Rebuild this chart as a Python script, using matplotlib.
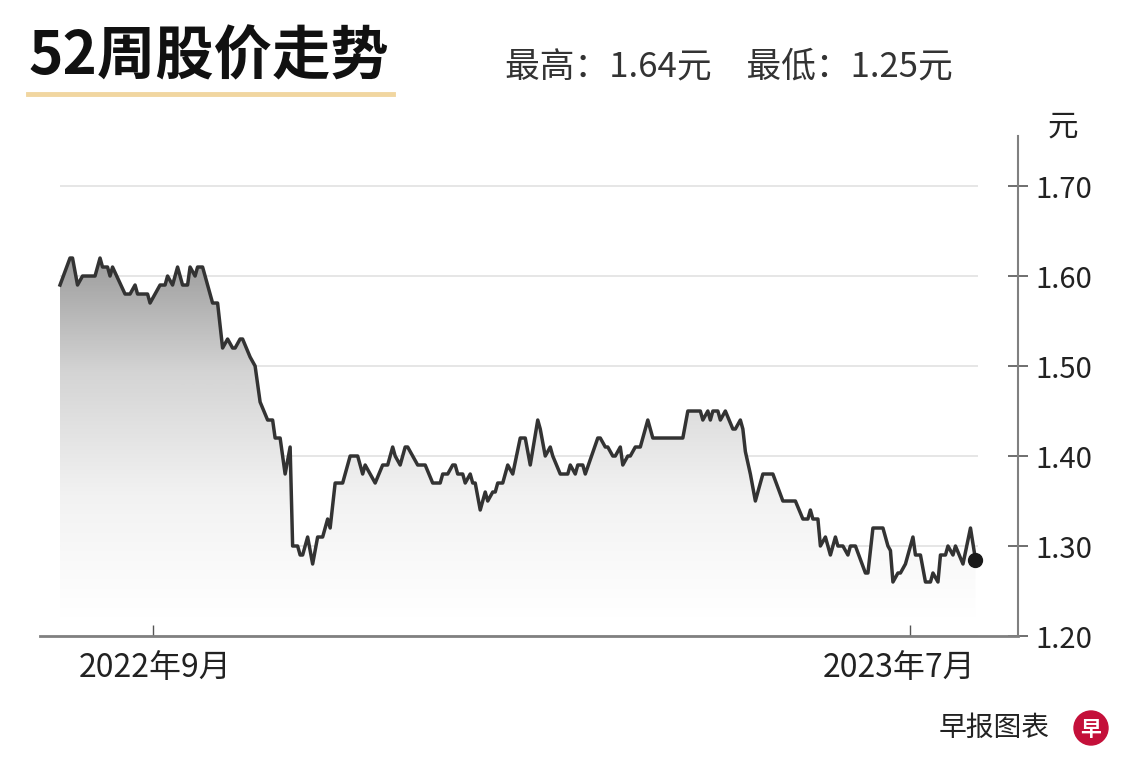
import numpy as np
import matplotlib
matplotlib.use("Agg")
import matplotlib.pyplot as plt
from matplotlib.colors import LinearSegmentedColormap
from matplotlib.patches import Ellipse

plt.rcParams['font.family'] = ['Noto Sans CJK SC', 'DejaVu Sans']

# 52周收盘价 (自2022-07-26起的天数, 元)
days = [0, 4, 5, 7, 9, 14, 16, 17, 19, 20, 21, 26, 28, 30, 31, 35, 36, 38, 40, 42,
        43, 45, 47, 49, 51, 52, 54, 55, 57, 59, 61, 63, 65, 67, 69, 70, 72, 73, 76, 78,
        80, 83, 85, 86, 88, 90, 92, 93, 95, 96, 97, 99, 101, 103, 105, 107, 108, 110, 113, 116,
        119, 121, 122, 124, 126, 129, 131, 133, 134, 136, 138, 139, 141, 143, 146, 149, 152, 153, 155, 157,
        158, 159, 161, 162, 164, 165, 166, 168, 170, 171, 173, 174, 175, 177, 179, 181, 184, 186, 188, 191,
        192, 194, 196, 197, 200, 203, 204, 206, 207, 209, 210, 215, 216, 218, 219, 221, 222, 224, 225, 227,
        228, 230, 232, 235, 237, 249, 251, 256, 257, 259, 260, 261, 263, 264, 266, 269, 270, 272, 273, 274,
        276, 278, 279, 281, 285, 289, 294, 297, 299, 300, 301, 303, 304, 306, 308, 310, 311, 313, 315, 316,
        318, 322, 323, 325, 329, 331, 332, 333, 335, 336, 338, 341, 342, 344, 346, 348, 349, 351, 352, 354,
        355, 357, 358, 361, 364, 366]
prices = [1.59, 1.62, 1.62, 1.59, 1.60, 1.60, 1.62, 1.61, 1.61, 1.60, 1.61, 1.58, 1.58, 1.59, 1.58, 1.58, 1.57, 1.58, 1.59, 1.59,
          1.60, 1.59, 1.61, 1.59, 1.59, 1.61, 1.60, 1.61, 1.61, 1.59, 1.57, 1.57, 1.52, 1.53, 1.52, 1.52, 1.53, 1.53, 1.51, 1.50,
          1.46, 1.44, 1.44, 1.42, 1.42, 1.38, 1.41, 1.30, 1.30, 1.29, 1.29, 1.31, 1.28, 1.31, 1.31, 1.33, 1.32, 1.37, 1.37, 1.40,
          1.40, 1.38, 1.39, 1.38, 1.37, 1.39, 1.39, 1.41, 1.40, 1.39, 1.41, 1.41, 1.40, 1.39, 1.39, 1.37, 1.37, 1.38, 1.38, 1.39,
          1.39, 1.38, 1.38, 1.37, 1.38, 1.37, 1.37, 1.34, 1.36, 1.35, 1.36, 1.36, 1.37, 1.37, 1.39, 1.38, 1.42, 1.42, 1.39, 1.44,
          1.43, 1.40, 1.41, 1.40, 1.38, 1.38, 1.39, 1.38, 1.39, 1.39, 1.38, 1.42, 1.42, 1.41, 1.41, 1.40, 1.40, 1.41, 1.39, 1.40,
          1.40, 1.41, 1.41, 1.44, 1.42, 1.42, 1.45, 1.45, 1.44, 1.45, 1.44, 1.45, 1.45, 1.44, 1.45, 1.43, 1.43, 1.44, 1.43, 1.405,
          1.38, 1.35, 1.36, 1.38, 1.38, 1.35, 1.35, 1.33, 1.33, 1.34, 1.33, 1.33, 1.30, 1.31, 1.29, 1.31, 1.30, 1.30, 1.29, 1.30,
          1.30, 1.27, 1.27, 1.32, 1.32, 1.30, 1.295, 1.26, 1.27, 1.27, 1.28, 1.31, 1.29, 1.29, 1.26, 1.26, 1.27, 1.26, 1.29, 1.29,
          1.30, 1.29, 1.30, 1.28, 1.32, 1.285]

y_ticks = [1.20, 1.30, 1.40, 1.50, 1.60, 1.70]
x_tick_days = [37, 340]
x_tick_labels = ["2022年9月", "2023年7月"]
title = "52周股价走势"
subtitle = "最高：1.64元　最低：1.25元"

days = np.array(days)
prices = np.array(prices)

fig = plt.figure(figsize=(11.4, 7.78), dpi=100)
ax = fig.add_axes([40 / 1140, 142 / 778, 978 / 1140, 500 / 778])
ax.set_xlim(-8, 383)
ax.set_ylim(1.20, 1.7556)

# grid lines (only over data span)
for v in y_ticks:
    ax.hlines(v, days[0], days[-1] + 1, color="#e2e2e2", lw=1.2, zorder=0)

# gradient fill under the curve
cmap = LinearSegmentedColormap.from_list("g", ["#ffffff", "#f2f2f2", "#d4d4d4", "#989898"])
grad = np.linspace(0, 1, 256).reshape(-1, 1)
im = ax.imshow(grad, cmap=cmap, aspect="auto", origin="lower",
               extent=[days[0], days[-1], 1.22, prices.max() + 0.01], zorder=1)
poly = ax.fill_between(days, prices, 1.20, color="none", lw=0)
im.set_clip_path(poly.get_paths()[0], transform=ax.transData)

ax.plot(days, prices, color="#333333", lw=2.5, solid_joinstyle="round", zorder=3)
ax.plot(days[-1], prices[-1], "o", color="#1a1a1a", ms=10, zorder=4)

# axes styling
for s in ("left", "top"):
    ax.spines[s].set_visible(False)
ax.spines["right"].set_color("#808080")
ax.spines["right"].set_linewidth(1.5)
ax.spines["bottom"].set_color("#808080")
ax.spines["bottom"].set_linewidth(2.0)
ax.yaxis.tick_right()
ax.set_yticks(y_ticks)
ax.set_yticklabels([f"{v:.2f}" for v in y_ticks], fontsize=21, color="#222222")
ax.tick_params(axis="y", direction="inout", length=15, width=1.2, color="#555555", pad=5)
ax.set_xticks(x_tick_days)
ax.set_xticklabels([])
ax.tick_params(axis="x", direction="in", length=8, width=1.0, color="#555555")
ax.text(x_tick_days[0] + 1, -0.065, x_tick_labels[0], transform=ax.get_xaxis_transform(),
        ha="center", va="center", fontsize=23, color="#222222")
ax.text(days[-1], -0.065, x_tick_labels[1], transform=ax.get_xaxis_transform(),
        ha="right", va="center", fontsize=23, color="#222222")
fig.text(1048 / 1140, 1 - 127 / 778, "元", ha="left", va="center",
         fontsize=22, color="#222222")

# header
fig.text(29 / 1140, 1 - 57 / 778, title, fontsize=42, fontweight="heavy",
         ha="left", va="center", color="#111111")
fig.add_artist(plt.Line2D([28 / 1140, 393 / 1140], [1 - 94 / 778, 1 - 94 / 778],
                          color="#f1d6a0", lw=3.5))
fig.text(505 / 1140, 1 - 67 / 778, subtitle, fontsize=25, ha="left", va="center",
         color="#333333")

# footer
fig.text(1050 / 1140, 1 - 728 / 778, "早报图表", fontsize=20, ha="right", va="center",
         color="#222222")
fig.add_artist(Ellipse((1091 / 1140, 1 - 728 / 778), 34 / 1140, 34 / 778,
                       transform=fig.transFigure, color="#c4103a"))
fig.text(1091 / 1140, 1 - 729 / 778, "早", fontsize=15, fontweight="heavy", ha="center",
         va="center", color="white")

fig.savefig("out.png", dpi=100)
